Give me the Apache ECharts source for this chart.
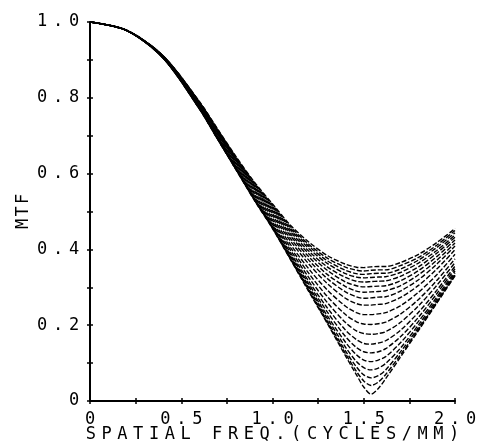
<!DOCTYPE html>
<html>
<head>
<meta charset="utf-8">
<script src="https://cdn.jsdelivr.net/npm/echarts@6/dist/echarts.min.js"></script>
<style>
  html, body { margin: 0; padding: 0; background: #fff; }
  #chart { width: 479px; height: 446px; }
</style>
</head>
<body>
<div id="chart"></div>
<script>
// spatial frequency samples (cycles/mm)
const freq = [0, 0.2, 0.4, 0.6, 0.7, 0.8, 0.9, 1.0, 1.1, 1.2, 1.3, 1.4, 1.46, 1.5, 1.54, 1.58, 1.62, 1.7, 1.8, 1.9, 2.0];

// MTF curves, top of the family first
const mtf01 = [1, 0.979, 0.911, 0.790, 0.717, 0.645, 0.578, 0.520, 0.463, 0.419, 0.384, 0.361, 0.353, 0.352, 0.354, 0.355, 0.355, 0.365, 0.387, 0.418, 0.455];
const mtf02 = [1, 0.978, 0.911, 0.789, 0.716, 0.643, 0.576, 0.517, 0.459, 0.413, 0.377, 0.353, 0.345, 0.343, 0.345, 0.346, 0.346, 0.357, 0.379, 0.411, 0.450];
const mtf03 = [1, 0.978, 0.911, 0.788, 0.714, 0.641, 0.573, 0.514, 0.455, 0.408, 0.370, 0.345, 0.336, 0.334, 0.336, 0.337, 0.337, 0.348, 0.372, 0.405, 0.444];
const mtf04 = [1, 0.978, 0.910, 0.787, 0.713, 0.640, 0.571, 0.511, 0.451, 0.402, 0.363, 0.336, 0.327, 0.325, 0.326, 0.327, 0.328, 0.339, 0.364, 0.397, 0.438];
const mtf05 = [1, 0.978, 0.910, 0.786, 0.711, 0.638, 0.568, 0.507, 0.446, 0.395, 0.354, 0.326, 0.316, 0.314, 0.315, 0.316, 0.317, 0.329, 0.354, 0.390, 0.432];
const mtf06 = [1, 0.978, 0.910, 0.785, 0.710, 0.636, 0.565, 0.503, 0.440, 0.388, 0.345, 0.314, 0.304, 0.301, 0.302, 0.303, 0.304, 0.317, 0.344, 0.381, 0.425];
const mtf07 = [1, 0.978, 0.909, 0.783, 0.708, 0.633, 0.562, 0.499, 0.435, 0.380, 0.334, 0.302, 0.290, 0.287, 0.288, 0.289, 0.291, 0.304, 0.333, 0.371, 0.417];
const mtf08 = [1, 0.978, 0.909, 0.782, 0.706, 0.631, 0.559, 0.494, 0.428, 0.371, 0.323, 0.288, 0.275, 0.271, 0.272, 0.274, 0.275, 0.290, 0.320, 0.361, 0.409];
const mtf09 = [1, 0.978, 0.908, 0.780, 0.704, 0.628, 0.555, 0.489, 0.421, 0.361, 0.310, 0.271, 0.257, 0.253, 0.253, 0.255, 0.257, 0.273, 0.305, 0.348, 0.399];
const mtf10 = [1, 0.978, 0.908, 0.778, 0.701, 0.625, 0.550, 0.483, 0.412, 0.348, 0.293, 0.250, 0.233, 0.228, 0.228, 0.230, 0.233, 0.251, 0.287, 0.333, 0.387];
const mtf11 = [1, 0.978, 0.907, 0.777, 0.699, 0.622, 0.546, 0.477, 0.404, 0.336, 0.276, 0.228, 0.209, 0.203, 0.202, 0.204, 0.208, 0.229, 0.268, 0.318, 0.375];
const mtf12 = [1, 0.978, 0.907, 0.775, 0.697, 0.619, 0.542, 0.472, 0.397, 0.325, 0.260, 0.207, 0.185, 0.178, 0.176, 0.178, 0.183, 0.207, 0.251, 0.305, 0.365];
const mtf13 = [1, 0.978, 0.906, 0.774, 0.695, 0.616, 0.539, 0.467, 0.390, 0.315, 0.246, 0.187, 0.162, 0.152, 0.150, 0.153, 0.159, 0.186, 0.234, 0.292, 0.356];
const mtf14 = [1, 0.978, 0.906, 0.773, 0.694, 0.615, 0.536, 0.464, 0.385, 0.308, 0.235, 0.170, 0.141, 0.130, 0.127, 0.130, 0.138, 0.169, 0.221, 0.283, 0.349];
const mtf15 = [1, 0.978, 0.906, 0.772, 0.692, 0.613, 0.534, 0.461, 0.381, 0.302, 0.225, 0.155, 0.122, 0.108, 0.104, 0.108, 0.117, 0.153, 0.210, 0.274, 0.343];
const mtf16 = [1, 0.978, 0.905, 0.771, 0.691, 0.612, 0.533, 0.459, 0.378, 0.297, 0.218, 0.142, 0.104, 0.088, 0.082, 0.087, 0.099, 0.139, 0.201, 0.268, 0.338];
const mtf17 = [1, 0.978, 0.905, 0.771, 0.691, 0.611, 0.532, 0.457, 0.375, 0.293, 0.211, 0.132, 0.090, 0.069, 0.061, 0.067, 0.082, 0.129, 0.194, 0.263, 0.334];
const mtf18 = [1, 0.978, 0.905, 0.770, 0.690, 0.611, 0.531, 0.456, 0.373, 0.290, 0.207, 0.125, 0.078, 0.053, 0.041, 0.050, 0.070, 0.121, 0.189, 0.260, 0.332];
const mtf19 = [1, 0.978, 0.905, 0.770, 0.690, 0.610, 0.530, 0.455, 0.372, 0.288, 0.205, 0.119, 0.069, 0.037, 0.018, 0.033, 0.059, 0.115, 0.186, 0.258, 0.330];

const curves = [mtf01, mtf02, mtf03, mtf04, mtf05, mtf06, mtf07, mtf08, mtf09, mtf10,
  mtf11, mtf12, mtf13, mtf14, mtf15, mtf16, mtf17, mtf18, mtf19];

const xTickLabels = ['0', '0.5', '1.0', '1.5', '2.0'];
const yTickLabels = ['0', '0.2', '0.4', '0.6', '0.8', '1.0'];

const FONT = '"DejaVu Sans Mono", "Liberation Mono", monospace';

// plotter-style lettering: every glyph gets a fixed wide cell
const spaced = (s, style) => s.split('').map((c) => '{' + style + '|' + c + '}').join('');

const labelAt = (labels, step) => (v) => {
  const i = Math.round(v / step);
  return Math.abs(v - i * step) < 1e-6 && labels[i] !== undefined ? spaced(labels[i], 'c') : '';
};

const tickRich = {
  c: { width: 16, align: 'center', fontFamily: FONT, fontSize: 17, color: '#000' },
};

const axisLine = { show: true, onZero: false, lineStyle: { color: '#000', width: 2 } };
const tick = (inside) => ({ show: true, inside, length: 3, lineStyle: { color: '#000', width: 1.5 } });

const chart = echarts.init(document.getElementById('chart'), null, { renderer: 'canvas' });

chart.setOption({
  animation: false,
  backgroundColor: '#fff',
  grid: {
    left: 90,
    right: 24,
    top: 22,
    bottom: 45,
    containLabel: false,
    outerBoundsMode: 'none',
  },
  xAxis: [
    {
      type: 'value',
      min: 0,
      max: 2,
      interval: 0.25,
      position: 'bottom',
      axisLine,
      axisTick: tick(false),
      splitLine: { show: false },
      axisLabel: {
        margin: 10,
        formatter: labelAt(xTickLabels, 0.5),
        rich: tickRich,
      },
      name: spaced('SPATIAL FREQ.(CYCLES/MM)', 'n'),
      nameLocation: 'middle',
      nameGap: 25,
      nameMoveOverlap: false,
      nameTextStyle: {
        rich: { n: { width: 15.8, align: 'center', fontFamily: FONT, fontSize: 17, color: '#000' } },
      },
    },
    {
      type: 'value',
      min: 0,
      max: 2,
      interval: 0.25,
      position: 'bottom',
      axisLine: { show: false },
      axisTick: tick(true),
      axisLabel: { show: false },
      splitLine: { show: false },
    },
  ],
  yAxis: [
    {
      type: 'value',
      min: 0,
      max: 1,
      interval: 0.1,
      position: 'left',
      axisLine,
      axisTick: tick(false),
      splitLine: { show: false },
      axisLabel: {
        margin: 8,
        formatter: labelAt(yTickLabels, 0.2),
        rich: tickRich,
      },
      name: spaced('MTF', 'n'),
      nameLocation: 'middle',
      nameGap: 58,
      nameMoveOverlap: false,
      nameTextStyle: {
        rich: { n: { width: 12.5, align: 'center', fontFamily: FONT, fontSize: 17, color: '#000' } },
      },
    },
    {
      type: 'value',
      min: 0,
      max: 1,
      interval: 0.1,
      position: 'left',
      axisLine: { show: false },
      axisTick: tick(true),
      axisLabel: { show: false },
      splitLine: { show: false },
    },
  ],
  series: curves.map((vals, i) => ({
    name: 'curve ' + (i + 1),
    type: 'line',
    xAxisIndex: 0,
    yAxisIndex: 0,
    data: freq.map((f, j) => [f, vals[j]]),
    smooth: 0.3,
    showSymbol: false,
    silent: true,
    lineStyle: { color: '#000', width: 1.4, type: [5, 2], dashOffset: (i * 1.7) % 7 },
  })),
});
</script>
</body>
</html>
